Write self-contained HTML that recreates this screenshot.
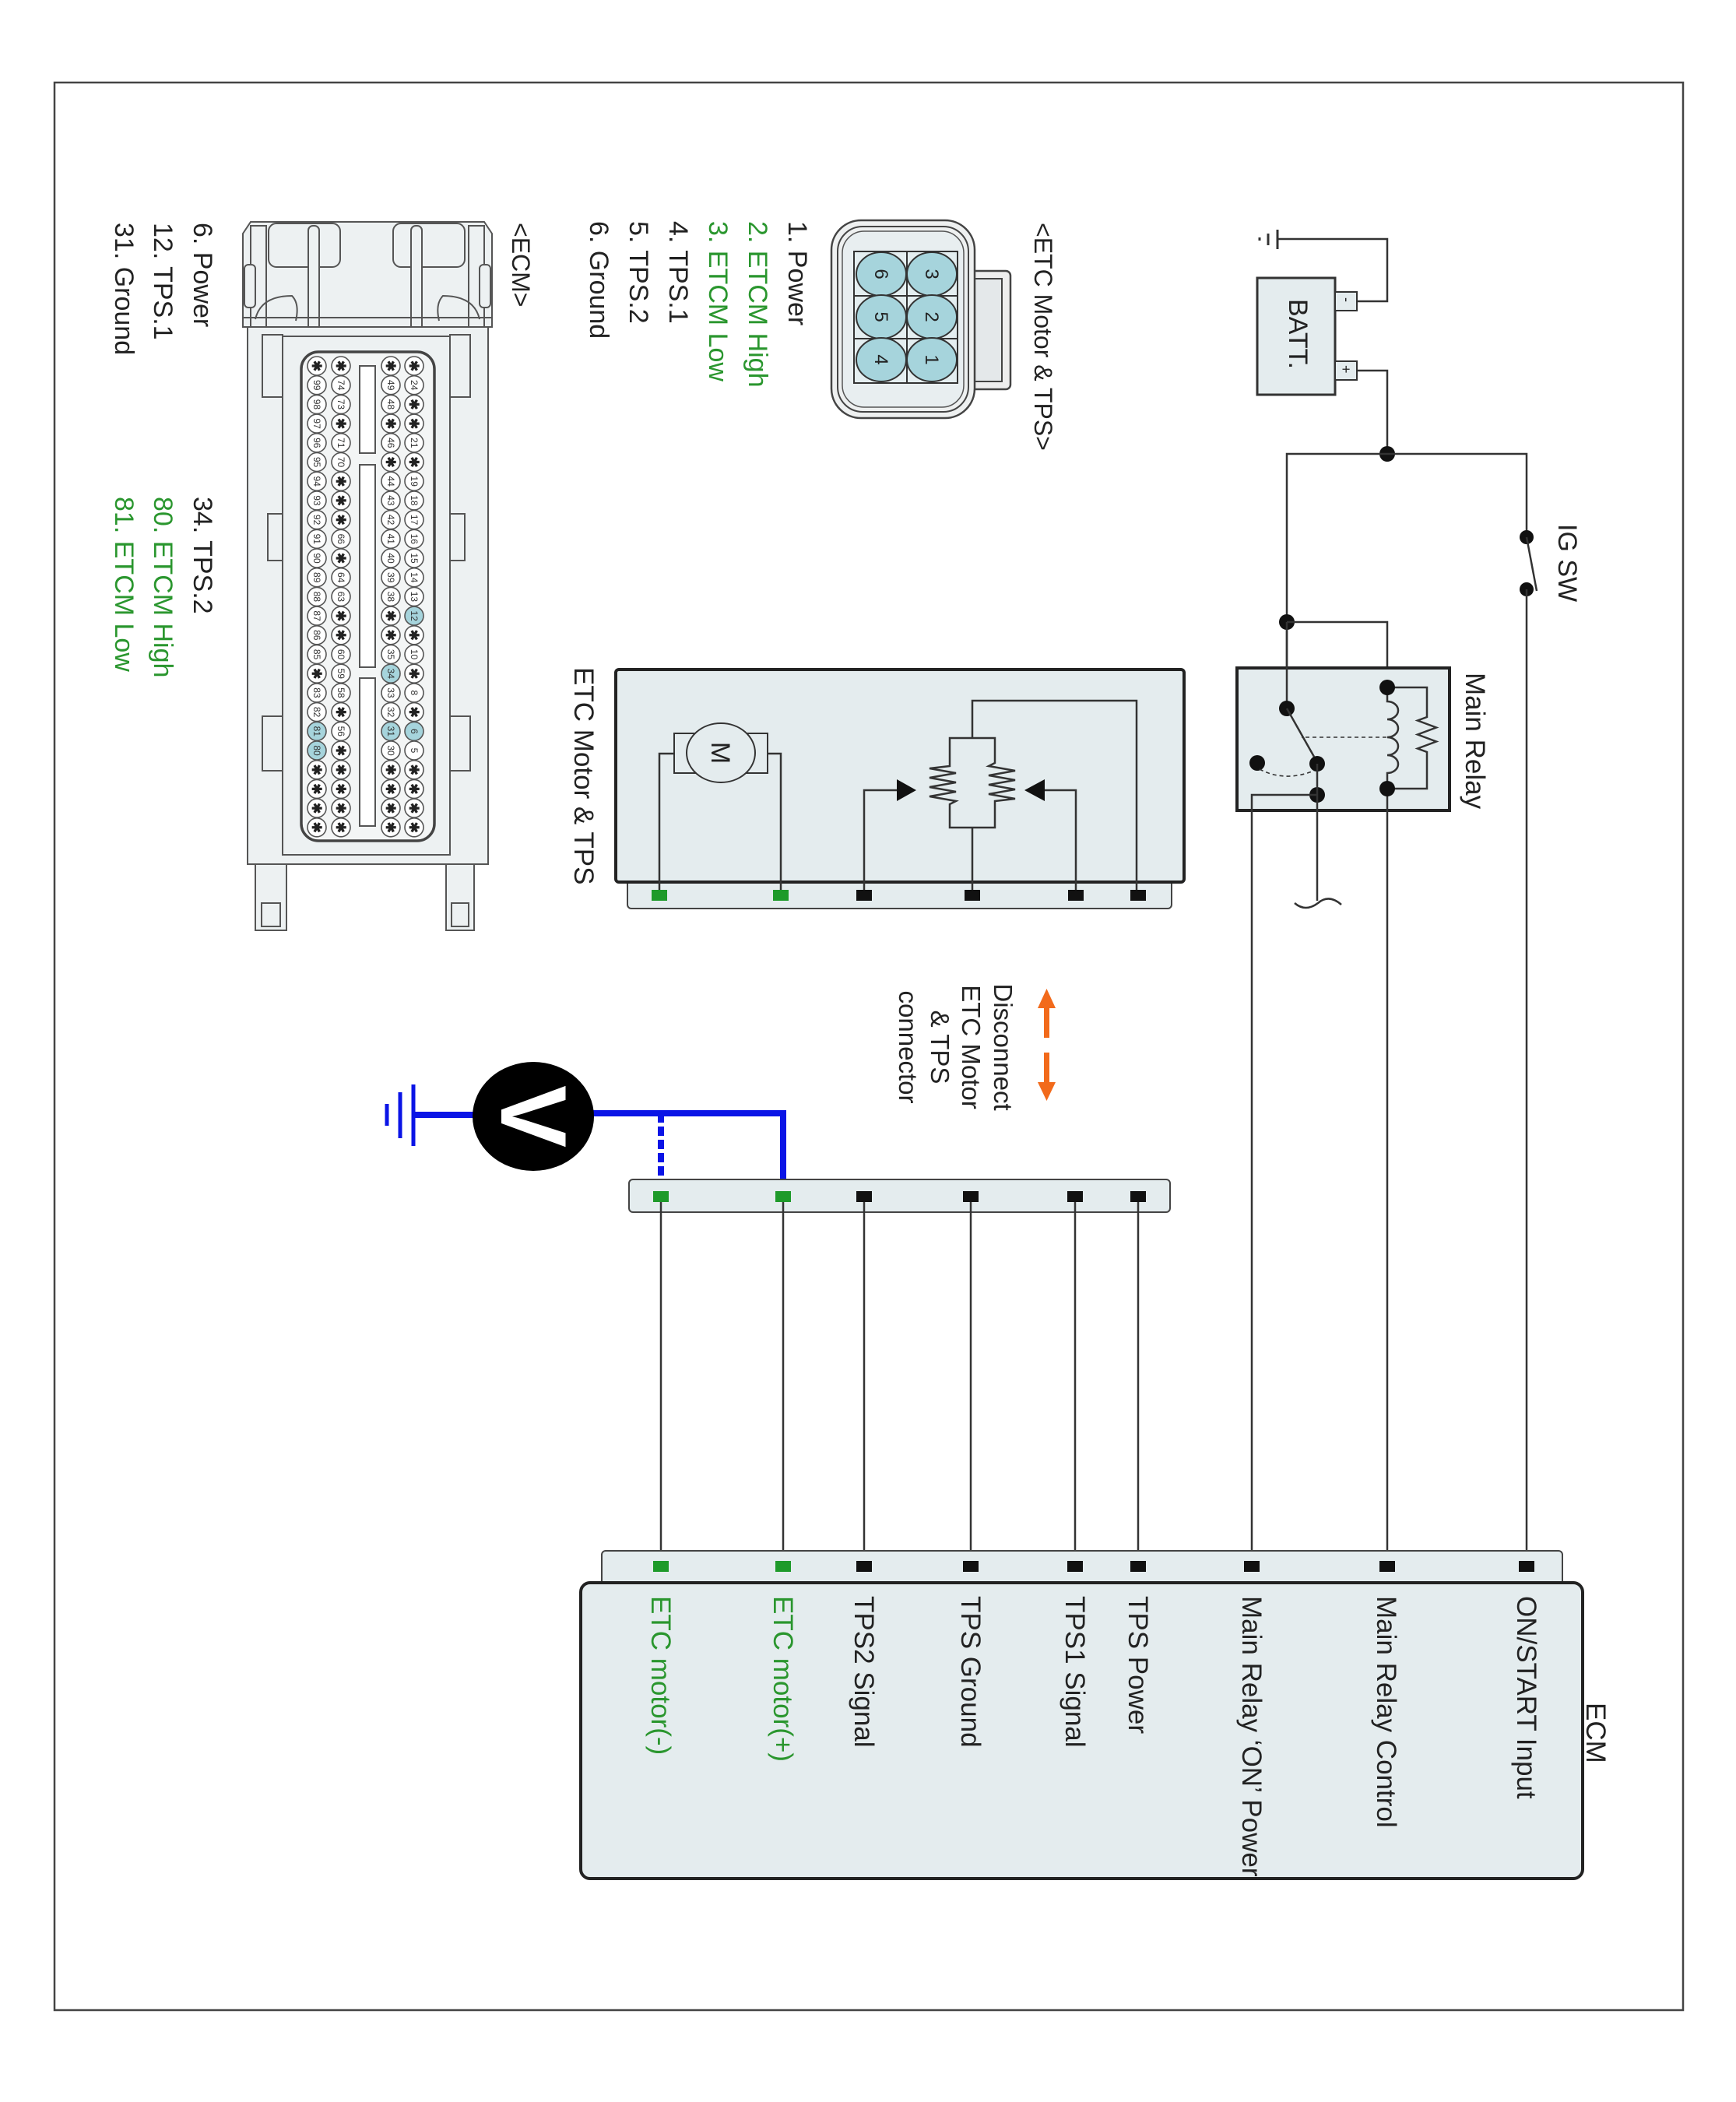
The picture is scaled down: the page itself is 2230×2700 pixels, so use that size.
<!DOCTYPE html>
<html><head><meta charset="utf-8"><style>
html,body{margin:0;padding:0;background:#fff}
svg{display:block}
text{font-family:"Liberation Sans",Arial,sans-serif;fill:#222}
.g{fill:#2a962e}
.w{stroke:#333;stroke-width:2.5;fill:none}
.pb{fill:#111}
.pg{fill:#1e9a2a}
.pin circle{fill:#fff;stroke:#555;stroke-width:1.6}
.pin circle.h{fill:#a6d4dc}
.pin text{font-size:12px;text-anchor:middle;fill:#333}
.pin text.s{font-size:17px;font-weight:bold;fill:#222}
</style></head><body>
<svg width="2230" height="2700" viewBox="0 0 2230 2700" xmlns="http://www.w3.org/2000/svg">
<rect x="0" y="0" width="2230" height="2700" fill="#fff"/>
<!-- frame -->
<rect x="70" y="106" width="2092" height="2476" fill="none" stroke="#444" stroke-width="2.5"/>

<!-- ===== Battery & ground ===== -->
<rect x="1615" y="357" width="100" height="150" fill="#e4ecee" stroke="#333" stroke-width="3"/>
<text transform="translate(1656 384) rotate(90)" font-size="34">BATT.</text>
<rect x="1715" y="375" width="28" height="24" fill="#e4ecee" stroke="#333" stroke-width="2"/>
<rect x="1715" y="464" width="28" height="24" fill="#e4ecee" stroke="#333" stroke-width="2"/>
<text transform="translate(1724 382) rotate(90)" font-size="18">-</text>
<text transform="translate(1723 469) rotate(90)" font-size="18">+</text>
<path class="w" d="M1743 387 H1782 V307 H1641"/>
<line x1="1641" y1="295" x2="1641" y2="320" stroke="#333" stroke-width="3"/>
<line x1="1629" y1="300" x2="1629" y2="315" stroke="#333" stroke-width="3"/>
<line x1="1618" y1="305" x2="1618" y2="309" stroke="#333" stroke-width="3"/>
<path class="w" d="M1743 476 H1782 V583"/>
<circle cx="1782" cy="583" r="10" fill="#111"/>
<path class="w" d="M1653 1030 V583 H1961 V690"/>
<!-- IG SW -->
<circle cx="1961" cy="690" r="9" fill="#111"/>
<circle cx="1961" cy="757" r="9" fill="#111"/>
<line x1="1961" y1="690" x2="1974" y2="759" stroke="#333" stroke-width="2.5"/>
<line x1="1961" y1="757" x2="1961" y2="2012" stroke="#333" stroke-width="2.5"/>
<text transform="translate(2002 673) rotate(90)" font-size="34">IG SW</text>

<!-- ===== Main relay ===== -->
<circle cx="1653" cy="799" r="10" fill="#111"/>
<path class="w" d="M1653 799 H1782 V883"/>
<rect x="1589" y="858" width="273" height="183" fill="#e4ecee" stroke="#222" stroke-width="4"/>
<text transform="translate(1883 864) rotate(90)" font-size="35">Main Relay</text>
<!-- coil -->
<path class="w" d="M1782 883 V901 a14 11.5 0 0 1 0 23 a14 11.5 0 0 1 0 23 a14 11.5 0 0 1 0 23 a14 11.5 0 0 1 0 23 V1013 V2012"/>
<path class="w" d="M1782 883 H1833 V921 l-12 4.5 l24 9 l-24 9 l24 9 l-24 9 l12 4.5 V1013 H1782"/>
<circle cx="1782" cy="883" r="10" fill="#111"/>
<circle cx="1782" cy="1013" r="10" fill="#111"/>
<!-- switch -->
<line x1="1653" y1="910" x2="1653" y2="799" stroke="#333" stroke-width="2.5"/>
<circle cx="1653" cy="910" r="10" fill="#111"/>
<line x1="1653" y1="910" x2="1688" y2="972" stroke="#333" stroke-width="2.5"/>
<line x1="1781" y1="947" x2="1672" y2="947" stroke="#333" stroke-width="1.6" stroke-dasharray="5 4"/>
<circle cx="1615" cy="980" r="10" fill="#111"/>
<circle cx="1692" cy="981" r="10" fill="#111"/>
<path d="M1618 988 Q1650 1005 1688 990" fill="none" stroke="#333" stroke-width="1.6" stroke-dasharray="5 4"/>
<circle cx="1692" cy="1021" r="10" fill="#111"/>
<path class="w" d="M1692 981 V1157"/>
<path class="w" d="M1663 1160 q14 12 30 0 q14 -12 30 2"/>
<path class="w" d="M1692 1021 H1608 V2012"/>

<!-- ===== ETC connector icon ===== -->
<text transform="translate(1329 286) rotate(90)" font-size="32">&lt;ETC Motor &amp; TPS&gt;</text>
<rect x="1245" y="348" width="53" height="152" rx="6" fill="#eee" stroke="#444" stroke-width="2.5"/>
<rect x="1245" y="358" width="42" height="132" fill="#e4e8ea" stroke="#444" stroke-width="2"/>
<rect x="1068" y="283" width="184" height="254" rx="38" fill="#eef0f0" stroke="#444" stroke-width="2.5"/>
<rect x="1076" y="291" width="168" height="238" rx="32" fill="#eef0f0" stroke="#444" stroke-width="2"/>
<rect x="1082" y="297" width="156" height="226" rx="28" fill="#e8eef0" stroke="#555" stroke-width="1.5"/>
<rect x="1097" y="323" width="133" height="169" fill="#e4eef0" stroke="#333" stroke-width="2"/>
<line x1="1165" y1="323" x2="1165" y2="492" stroke="#333" stroke-width="2"/>
<line x1="1097" y1="380" x2="1230" y2="380" stroke="#333" stroke-width="2"/>
<line x1="1097" y1="435" x2="1230" y2="435" stroke="#333" stroke-width="2"/>
<g fill="#a6d4dc" stroke="#333" stroke-width="2">
<ellipse cx="1197" cy="352" rx="32" ry="28"/><ellipse cx="1197" cy="407" rx="32" ry="28"/><ellipse cx="1197" cy="462" rx="32" ry="28"/>
<ellipse cx="1132" cy="352" rx="32" ry="28"/><ellipse cx="1132" cy="407" rx="32" ry="28"/><ellipse cx="1132" cy="462" rx="32" ry="28"/>
</g>
<g font-size="24" text-anchor="middle">
<text transform="translate(1189 352) rotate(90)">3</text>
<text transform="translate(1189 407) rotate(90)">2</text>
<text transform="translate(1189 462) rotate(90)">1</text>
<text transform="translate(1124 352) rotate(90)">6</text>
<text transform="translate(1124 407) rotate(90)">5</text>
<text transform="translate(1124 462) rotate(90)">4</text>
</g>
<g font-size="34">
<text transform="translate(1013 284) rotate(90)">1. Power</text>
<text class="g" transform="translate(962 284) rotate(90)">2. ETCM High</text>
<text class="g" transform="translate(911 284) rotate(90)">3. ETCM Low</text>
<text transform="translate(860 284) rotate(90)">4. TPS.1</text>
<text transform="translate(809 284) rotate(90)">5. TPS.2</text>
<text transform="translate(758 284) rotate(90)">6. Ground</text>
</g>

<!-- ===== ECM connector icon ===== -->
<text transform="translate(658 286) rotate(90)" font-size="32">&lt;ECM&gt;</text>
<g font-size="34">
<text transform="translate(249 286) rotate(90)">6. Power</text>
<text transform="translate(198 286) rotate(90)">12. TPS.1</text>
<text transform="translate(148 286) rotate(90)">31. Ground</text>
<text transform="translate(249 638) rotate(90)">34. TPS.2</text>
<text class="g" transform="translate(198 638) rotate(90)">80. ETCM High</text>
<text class="g" transform="translate(148 638) rotate(90)">81. ETCM Low</text>
</g>
<g stroke="#555" stroke-width="2" fill="#edf1f2">
<path d="M312 300 L322 285 H622 L632 300 V420 H312 Z"/>
<rect x="322" y="290" width="20" height="130"/>
<rect x="602" y="290" width="20" height="130"/>
<rect x="314" y="340" width="14" height="55" rx="5"/>
<rect x="616" y="340" width="14" height="55" rx="5"/>
<rect x="345" y="287" width="92" height="56" rx="10"/>
<rect x="505" y="287" width="92" height="56" rx="10"/>
<rect x="396" y="290" width="14" height="135" rx="6"/>
<rect x="528" y="290" width="14" height="135" rx="6"/>
<path d="M328 410 Q335 380 375 380 Q385 390 380 412" fill="none"/>
<path d="M616 410 Q609 380 569 380 Q559 390 564 412" fill="none"/>
<line x1="312" y1="408" x2="632" y2="408"/>
<rect x="318" y="420" width="309" height="690"/>
<rect x="363" y="432" width="215" height="666"/>
<rect x="337" y="430" width="26" height="80"/>
<rect x="578" y="430" width="26" height="80"/>
<rect x="337" y="920" width="26" height="70"/>
<rect x="578" y="920" width="26" height="70"/>
<rect x="344" y="660" width="19" height="60"/>
<rect x="578" y="660" width="19" height="60"/>
<rect x="328" y="1110" width="40" height="85"/>
<rect x="573" y="1110" width="36" height="85"/>
<rect x="336" y="1160" width="24" height="30"/>
<rect x="580" y="1160" width="22" height="30"/>
</g>
<rect x="387" y="452" width="171" height="628" rx="22" fill="#f3f5f5" stroke="#444" stroke-width="3.5"/>
<g fill="#fff" stroke="#555" stroke-width="2">
<rect x="462" y="470" width="20" height="112"/>
<rect x="462" y="597" width="20" height="260"/>
<rect x="462" y="871" width="20" height="190"/>
</g>
<!-- pins rows: page x = rowX - v, page y = u -->
<g class="pin" transform="translate(532 0) rotate(90)">
<circle cx="470" cy="0" r="12"/><text class="s" x="470" y="6">✱</text>
<circle cx="494.7" cy="0" r="12"/><text x="494.7" y="4">24</text>
<circle cx="519.4" cy="0" r="12"/><text class="s" x="519.4" y="6">✱</text>
<circle cx="544.1" cy="0" r="12"/><text class="s" x="544.1" y="6">✱</text>
<circle cx="568.8" cy="0" r="12"/><text x="568.8" y="4">21</text>
<circle cx="593.5" cy="0" r="12"/><text class="s" x="593.5" y="6">✱</text>
<circle cx="618.2" cy="0" r="12"/><text x="618.2" y="4">19</text>
<circle cx="642.9" cy="0" r="12"/><text x="642.9" y="4">18</text>
<circle cx="667.6" cy="0" r="12"/><text x="667.6" y="4">17</text>
<circle cx="692.3" cy="0" r="12"/><text x="692.3" y="4">16</text>
<circle cx="717" cy="0" r="12"/><text x="717" y="4">15</text>
<circle cx="741.7" cy="0" r="12"/><text x="741.7" y="4">14</text>
<circle cx="766.4" cy="0" r="12"/><text x="766.4" y="4">13</text>
<circle class="h" cx="791.1" cy="0" r="12"/><text x="791.1" y="4">12</text>
<circle cx="815.8" cy="0" r="12"/><text class="s" x="815.8" y="6">✱</text>
<circle cx="840.5" cy="0" r="12"/><text x="840.5" y="4">10</text>
<circle cx="865.2" cy="0" r="12"/><text class="s" x="865.2" y="6">✱</text>
<circle cx="889.9" cy="0" r="12"/><text x="889.9" y="4">8</text>
<circle cx="914.6" cy="0" r="12"/><text class="s" x="914.6" y="6">✱</text>
<circle class="h" cx="939.3" cy="0" r="12"/><text x="939.3" y="4">6</text>
<circle cx="964" cy="0" r="12"/><text x="964" y="4">5</text>
<circle cx="988.7" cy="0" r="12"/><text class="s" x="988.7" y="6">✱</text>
<circle cx="1013.4" cy="0" r="12"/><text class="s" x="1013.4" y="6">✱</text>
<circle cx="1038.1" cy="0" r="12"/><text class="s" x="1038.1" y="6">✱</text>
<circle cx="1062.8" cy="0" r="12"/><text class="s" x="1062.8" y="6">✱</text>
</g>
<g class="pin" transform="translate(502 0) rotate(90)">
<circle cx="470" cy="0" r="12"/><text class="s" x="470" y="6">✱</text>
<circle cx="494.7" cy="0" r="12"/><text x="494.7" y="4">49</text>
<circle cx="519.4" cy="0" r="12"/><text x="519.4" y="4">48</text>
<circle cx="544.1" cy="0" r="12"/><text class="s" x="544.1" y="6">✱</text>
<circle cx="568.8" cy="0" r="12"/><text x="568.8" y="4">46</text>
<circle cx="593.5" cy="0" r="12"/><text class="s" x="593.5" y="6">✱</text>
<circle cx="618.2" cy="0" r="12"/><text x="618.2" y="4">44</text>
<circle cx="642.9" cy="0" r="12"/><text x="642.9" y="4">43</text>
<circle cx="667.6" cy="0" r="12"/><text x="667.6" y="4">42</text>
<circle cx="692.3" cy="0" r="12"/><text x="692.3" y="4">41</text>
<circle cx="717" cy="0" r="12"/><text x="717" y="4">40</text>
<circle cx="741.7" cy="0" r="12"/><text x="741.7" y="4">39</text>
<circle cx="766.4" cy="0" r="12"/><text x="766.4" y="4">38</text>
<circle cx="791.1" cy="0" r="12"/><text class="s" x="791.1" y="6">✱</text>
<circle cx="815.8" cy="0" r="12"/><text class="s" x="815.8" y="6">✱</text>
<circle cx="840.5" cy="0" r="12"/><text x="840.5" y="4">35</text>
<circle class="h" cx="865.2" cy="0" r="12"/><text x="865.2" y="4">34</text>
<circle cx="889.9" cy="0" r="12"/><text x="889.9" y="4">33</text>
<circle cx="914.6" cy="0" r="12"/><text x="914.6" y="4">32</text>
<circle class="h" cx="939.3" cy="0" r="12"/><text x="939.3" y="4">31</text>
<circle cx="964" cy="0" r="12"/><text x="964" y="4">30</text>
<circle cx="988.7" cy="0" r="12"/><text class="s" x="988.7" y="6">✱</text>
<circle cx="1013.4" cy="0" r="12"/><text class="s" x="1013.4" y="6">✱</text>
<circle cx="1038.1" cy="0" r="12"/><text class="s" x="1038.1" y="6">✱</text>
<circle cx="1062.8" cy="0" r="12"/><text class="s" x="1062.8" y="6">✱</text>
</g>
<g class="pin" transform="translate(438 0) rotate(90)">
<circle cx="470" cy="0" r="12"/><text class="s" x="470" y="6">✱</text>
<circle cx="494.7" cy="0" r="12"/><text x="494.7" y="4">74</text>
<circle cx="519.4" cy="0" r="12"/><text x="519.4" y="4">73</text>
<circle cx="544.1" cy="0" r="12"/><text class="s" x="544.1" y="6">✱</text>
<circle cx="568.8" cy="0" r="12"/><text x="568.8" y="4">71</text>
<circle cx="593.5" cy="0" r="12"/><text x="593.5" y="4">70</text>
<circle cx="618.2" cy="0" r="12"/><text class="s" x="618.2" y="6">✱</text>
<circle cx="642.9" cy="0" r="12"/><text class="s" x="642.9" y="6">✱</text>
<circle cx="667.6" cy="0" r="12"/><text class="s" x="667.6" y="6">✱</text>
<circle cx="692.3" cy="0" r="12"/><text x="692.3" y="4">66</text>
<circle cx="717" cy="0" r="12"/><text class="s" x="717" y="6">✱</text>
<circle cx="741.7" cy="0" r="12"/><text x="741.7" y="4">64</text>
<circle cx="766.4" cy="0" r="12"/><text x="766.4" y="4">63</text>
<circle cx="791.1" cy="0" r="12"/><text class="s" x="791.1" y="6">✱</text>
<circle cx="815.8" cy="0" r="12"/><text class="s" x="815.8" y="6">✱</text>
<circle cx="840.5" cy="0" r="12"/><text x="840.5" y="4">60</text>
<circle cx="865.2" cy="0" r="12"/><text x="865.2" y="4">59</text>
<circle cx="889.9" cy="0" r="12"/><text x="889.9" y="4">58</text>
<circle cx="914.6" cy="0" r="12"/><text class="s" x="914.6" y="6">✱</text>
<circle cx="939.3" cy="0" r="12"/><text x="939.3" y="4">56</text>
<circle cx="964" cy="0" r="12"/><text class="s" x="964" y="6">✱</text>
<circle cx="988.7" cy="0" r="12"/><text class="s" x="988.7" y="6">✱</text>
<circle cx="1013.4" cy="0" r="12"/><text class="s" x="1013.4" y="6">✱</text>
<circle cx="1038.1" cy="0" r="12"/><text class="s" x="1038.1" y="6">✱</text>
<circle cx="1062.8" cy="0" r="12"/><text class="s" x="1062.8" y="6">✱</text>
</g>
<g class="pin" transform="translate(407 0) rotate(90)">
<circle cx="470" cy="0" r="12"/><text class="s" x="470" y="6">✱</text>
<circle cx="494.7" cy="0" r="12"/><text x="494.7" y="4">99</text>
<circle cx="519.4" cy="0" r="12"/><text x="519.4" y="4">98</text>
<circle cx="544.1" cy="0" r="12"/><text x="544.1" y="4">97</text>
<circle cx="568.8" cy="0" r="12"/><text x="568.8" y="4">96</text>
<circle cx="593.5" cy="0" r="12"/><text x="593.5" y="4">95</text>
<circle cx="618.2" cy="0" r="12"/><text x="618.2" y="4">94</text>
<circle cx="642.9" cy="0" r="12"/><text x="642.9" y="4">93</text>
<circle cx="667.6" cy="0" r="12"/><text x="667.6" y="4">92</text>
<circle cx="692.3" cy="0" r="12"/><text x="692.3" y="4">91</text>
<circle cx="717" cy="0" r="12"/><text x="717" y="4">90</text>
<circle cx="741.7" cy="0" r="12"/><text x="741.7" y="4">89</text>
<circle cx="766.4" cy="0" r="12"/><text x="766.4" y="4">88</text>
<circle cx="791.1" cy="0" r="12"/><text x="791.1" y="4">87</text>
<circle cx="815.8" cy="0" r="12"/><text x="815.8" y="4">86</text>
<circle cx="840.5" cy="0" r="12"/><text x="840.5" y="4">85</text>
<circle cx="865.2" cy="0" r="12"/><text class="s" x="865.2" y="6">✱</text>
<circle cx="889.9" cy="0" r="12"/><text x="889.9" y="4">83</text>
<circle cx="914.6" cy="0" r="12"/><text x="914.6" y="4">82</text>
<circle class="h" cx="939.3" cy="0" r="12"/><text x="939.3" y="4">81</text>
<circle class="h" cx="964" cy="0" r="12"/><text x="964" y="4">80</text>
<circle cx="988.7" cy="0" r="12"/><text class="s" x="988.7" y="6">✱</text>
<circle cx="1013.4" cy="0" r="12"/><text class="s" x="1013.4" y="6">✱</text>
<circle cx="1038.1" cy="0" r="12"/><text class="s" x="1038.1" y="6">✱</text>
<circle cx="1062.8" cy="0" r="12"/><text class="s" x="1062.8" y="6">✱</text>
</g>

<!-- ===== ETC Motor & TPS component ===== -->
<rect x="806" y="1128" width="699" height="39" rx="5" fill="#e4ecee" stroke="#444" stroke-width="2"/>
<rect x="791" y="860" width="730" height="273" rx="4" fill="#e4ecee" stroke="#222" stroke-width="4"/>
<text transform="translate(738 857) rotate(90)" font-size="35">ETC Motor &amp; TPS</text>
<!-- motor -->
<path class="w" d="M847 1150 V968 H866 M1003 1150 V968 H986"/>
<rect x="866" y="942" width="120" height="51" fill="#e4ecee" stroke="#333" stroke-width="2"/>
<ellipse cx="926" cy="967" rx="44" ry="38" fill="#e4ecee" stroke="#333" stroke-width="2"/>
<text transform="translate(914 967) rotate(90)" font-size="34" text-anchor="middle">M</text>
<!-- tps -->
<path class="w" d="M1249 1150 V1063 M1220 948 H1278 V980 l-8 4 l34 6 l-34 6 l34 6 l-34 6 l34 6 l-34 6 l34 6 l-26 3 V1063 H1220 V1033 l8 -4 l-34 -6 l34 -6 l-34 -6 l34 -6 l-34 -6 l34 -6 l-34 -6 l26 -3 Z M1249 948 V900 H1460 V1150"/>
<path class="w" d="M1110 1150 V1015 H1155 M1382 1150 V1015 H1340"/>
<polygon points="1152,1001 1177,1015 1152,1029" fill="#111"/>
<polygon points="1342,1001 1316,1015 1342,1029" fill="#111"/>
<g>
<rect x="837" y="1143" width="20" height="14" class="pg"/><rect x="993" y="1143" width="20" height="14" class="pg"/>
<rect x="1100" y="1143" width="20" height="14" class="pb"/><rect x="1239" y="1143" width="20" height="14" class="pb"/>
<rect x="1372" y="1143" width="20" height="14" class="pb"/><rect x="1452" y="1143" width="20" height="14" class="pb"/>
</g>

<!-- ===== Disconnect note ===== -->
<g fill="#f26a1b">
<rect x="1341" y="1290" width="7" height="43"/>
<polygon points="1333,1295 1356,1295 1344.5,1270"/>
<rect x="1341" y="1352" width="7" height="43"/>
<polygon points="1333,1390 1356,1390 1344.5,1414"/>
</g>
<g font-size="33" text-anchor="middle">
<text transform="translate(1277 1345) rotate(90)">Disconnect</text>
<text transform="translate(1236 1345) rotate(90)">ETC Motor</text>
<text transform="translate(1196 1345) rotate(90)">&amp; TPS</text>
<text transform="translate(1155 1345) rotate(90)">connector</text>
</g>

<!-- ===== Voltmeter ===== -->
<path d="M760 1430 H1006 V1537" fill="none" stroke="#0a14e6" stroke-width="8"/>
<line x1="849" y1="1430" x2="849" y2="1537" stroke="#0a14e6" stroke-width="8" stroke-dasharray="12 5"/>
<line x1="610" y1="1432" x2="531" y2="1432" stroke="#0a14e6" stroke-width="8"/>
<line x1="531" y1="1393" x2="531" y2="1472" stroke="#0a14e6" stroke-width="5"/>
<line x1="514" y1="1403" x2="514" y2="1462" stroke="#0a14e6" stroke-width="5"/>
<line x1="497" y1="1418" x2="497" y2="1446" stroke="#0a14e6" stroke-width="5"/>
<ellipse cx="685" cy="1434" rx="78" ry="70" fill="#000"/>
<text transform="translate(644 1434) rotate(90)" font-size="120" font-weight="bold" text-anchor="middle" style="fill:#fff">V</text>

<!-- ===== middle harness strip ===== -->
<rect x="808" y="1515" width="695" height="42" rx="5" fill="#e4ecee" stroke="#444" stroke-width="2"/>
<g>
<rect x="839" y="1530" width="20" height="14" class="pg"/><rect x="996" y="1530" width="20" height="14" class="pg"/>
<rect x="1100" y="1530" width="20" height="14" class="pb"/><rect x="1237" y="1530" width="20" height="14" class="pb"/>
<rect x="1371" y="1530" width="20" height="14" class="pb"/><rect x="1452" y="1530" width="20" height="14" class="pb"/>
</g>
<g class="w">
<line x1="849" y1="1544" x2="849" y2="2012"/><line x1="1006" y1="1544" x2="1006" y2="2012"/>
<line x1="1110" y1="1544" x2="1110" y2="2012"/><line x1="1247" y1="1544" x2="1247" y2="2012"/>
<line x1="1381" y1="1544" x2="1381" y2="2012"/><line x1="1462" y1="1544" x2="1462" y2="2012"/>
</g>

<!-- ===== ECM ===== -->
<rect x="773" y="1992" width="1234" height="50" rx="5" fill="#e4ecee" stroke="#444" stroke-width="2"/>
<rect x="746" y="2033" width="1287" height="380" rx="12" fill="#e4ecee" stroke="#222" stroke-width="4"/>
<g>
<rect x="839" y="2005" width="20" height="14" class="pg"/><rect x="996" y="2005" width="20" height="14" class="pg"/>
<rect x="1100" y="2005" width="20" height="14" class="pb"/><rect x="1237" y="2005" width="20" height="14" class="pb"/>
<rect x="1371" y="2005" width="20" height="14" class="pb"/><rect x="1452" y="2005" width="20" height="14" class="pb"/>
<rect x="1598" y="2005" width="20" height="14" class="pb"/><rect x="1772" y="2005" width="20" height="14" class="pb"/>
<rect x="1951" y="2005" width="20" height="14" class="pb"/>
</g>
<text transform="translate(2038 2187) rotate(90)" font-size="35">ECM</text>
<g font-size="35">
<text transform="translate(1949 2050) rotate(90)">ON/START Input</text>
<text transform="translate(1769 2050) rotate(90)">Main Relay Control</text>
<text transform="translate(1596 2050) rotate(90)">Main Relay ‘ON’ Power</text>
<text transform="translate(1450 2050) rotate(90)">TPS Power</text>
<text transform="translate(1369 2050) rotate(90)">TPS1 Signal</text>
<text transform="translate(1235 2050) rotate(90)">TPS Ground</text>
<text transform="translate(1098 2050) rotate(90)">TPS2 Signal</text>
<text class="g" transform="translate(994 2050) rotate(90)">ETC motor(+)</text>
<text class="g" transform="translate(837 2050) rotate(90)">ETC motor(-)</text>
</g>
</svg>
</body></html>
